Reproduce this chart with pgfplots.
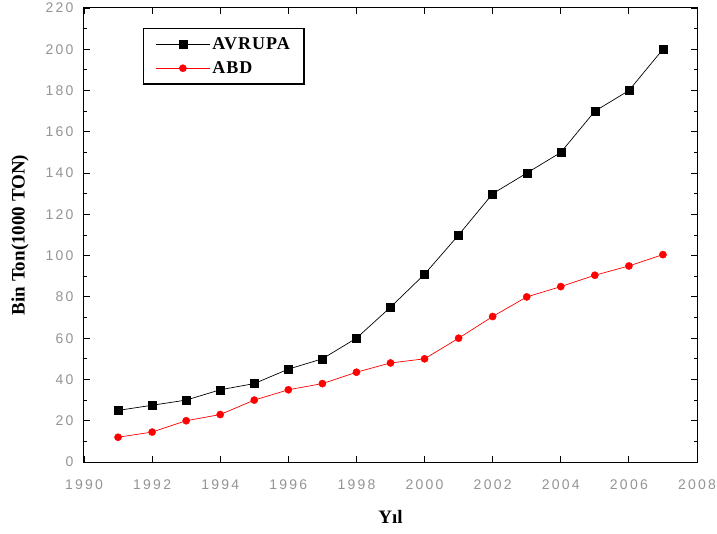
\documentclass[border=0pt]{standalone}
\usepackage{pgfplots}
\pgfplotsset{compat=1.18}
\usepackage{fontspec}
\setmainfont{Liberation Serif}
\newfontfamily\ticksans[LetterSpace=16]{Liberation Sans}
\newfontfamily\legserif[LetterSpace=6]{Liberation Serif}
\begin{document}
\begin{tikzpicture}
\begin{axis}[
  name=ax,
  scale only axis,
  width=613pt, height=454pt,
  xmin=1990, xmax=2008, ymin=0, ymax=220,
  xtick={1990,1992,...,2008},
  ytick={0,20,...,220},
  minor x tick num=1, minor y tick num=1,
  tick align=inside,
  major tick length=6pt, minor tick length=3pt,
  axis line style={line width=1pt},
  every tick/.style={black, line width=0.9pt},
  x tick label style={font=\ticksans\fontsize{14}{15}\selectfont, text=black!42, yshift=-14pt},
  y tick label style={font=\ticksans\fontsize{14}{15}\selectfont, text=black!42, xshift=-7pt},
  /pgf/number format/assume math mode=true,
  /pgf/number format/1000 sep={},
  xlabel={Yıl}, ylabel={Bin Ton(1000 TON)},
  label style={font=\bfseries\fontsize{19}{21}\selectfont},
  xlabel style={yshift=-14pt},
  ylabel style={yshift=10pt},
  legend style={at={(0.096,0.957)}, anchor=north west, draw=black, line width=1.3pt,
     font=\legserif\bfseries\fontsize{18}{20}\selectfont, row sep=7pt, inner xsep=12pt, inner ysep=7pt},
  legend image code/.code={
    \draw[mark repeat=2,mark phase=2,#1] plot coordinates {(0cm,0cm) (0.95cm,0cm) (1.9cm,0cm)};},
  legend cell align=left,
]
\addplot[black, line width=0.7pt, mark=square*, mark size=4pt, mark options={solid, line width=0.4pt}] coordinates {
(1991,25) (1992,27.5) (1993,30) (1994,35) (1995,38) (1996,45) (1997,50) (1998,60) (1999,75) (2000,91) (2001,110) (2002,130) (2003,140) (2004,150) (2005,170) (2006,180) (2007,200)
};
\addlegendentry{AVRUPA}
\addplot[red, line width=0.7pt, mark=*, mark size=3.6pt, mark options={solid, line width=0.4pt}] coordinates {
(1991,12) (1992,14.5) (1993,20) (1994,23) (1995,30) (1996,35) (1997,38) (1998,43.5) (1999,48) (2000,50) (2001,60) (2002,70.5) (2003,80) (2004,85) (2005,90.5) (2006,95) (2007,100.5)
};
\addlegendentry{ABD}
\end{axis}
\pgfresetboundingbox
\path ([xshift=-84pt,yshift=-71pt]ax.south west) rectangle ([xshift=20pt,yshift=8pt]ax.north east);
\end{tikzpicture}
\end{document}
